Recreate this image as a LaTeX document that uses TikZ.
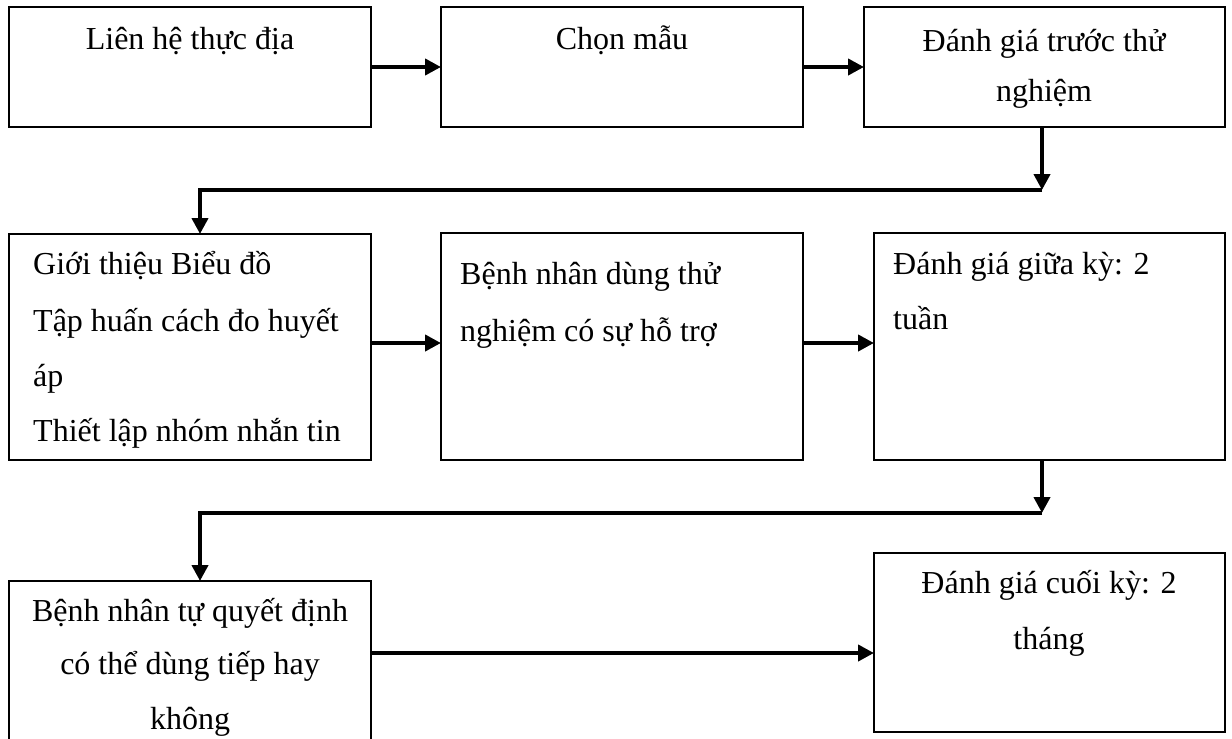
\documentclass[tikz,border=0pt]{standalone}
\usepackage{fontspec}
\setmainfont{Liberation Serif}
\usetikzlibrary{arrows.meta}
\begin{document}
\begin{tikzpicture}[x=1pt,y=-1pt,
  stepbox/.style={draw=black, line width=1.8pt, rectangle, inner sep=0pt, outer sep=0pt},
  txt/.style={inner sep=0pt, font=\fontsize{32}{38}\selectfont, text=black},
  flow/.style={line width=4pt, -{Triangle[length=16pt,width=16pt]}}]
\useasboundingbox (0,0) rectangle (1232,739);
\clip (0,0) rectangle (1232,739);
\fill[white] (0,0) rectangle (1232,739);

% boxes, row by row
\node[stepbox, minimum width=362pt, minimum height=120pt] (b1) at (190,67) {};
\node[stepbox, minimum width=362pt, minimum height=120pt] (b2) at (622,67) {};
\node[stepbox, minimum width=361pt, minimum height=120pt] (b3) at (1044.5,67) {};
\node[stepbox, minimum width=362pt, minimum height=226pt] (b4) at (190,347) {};
\node[stepbox, minimum width=362pt, minimum height=227pt] (b5) at (622,346.5) {};
\node[stepbox, minimum width=351pt, minimum height=227pt] (b6) at (1049.5,346.5) {};
\node[stepbox, minimum width=362pt, minimum height=219pt] (b7) at (190,690.5) {};
\node[stepbox, minimum width=351pt, minimum height=179pt] (b8) at (1049.5,642.5) {};

% texts
\node[txt, anchor=base] (t1) at (190,49) {Liên hệ thực địa};
\node[txt, anchor=base] (t2) at (622,49) {Chọn mẫu};
\node[txt, anchor=base] (t3a) at (1044,51) {Đánh giá trước thử};
\node[txt, anchor=base] (t3b) at (1044,101) {nghiệm};

\node[txt, anchor=base west] (t4a) at (33,274) {Giới thiệu Biểu đồ};
\node[txt, anchor=base west] (t4b) at (33,331) {Tập huấn cách đo huyết};
\node[txt, anchor=base west] (t4c) at (33,386) {áp};
\node[txt, anchor=base west] (t4d) at (33,441) {Thiết lập nhóm nhắn tin};

\node[txt, anchor=base west] (t5a) at (460,284) {Bệnh nhân dùng thử};
\node[txt, anchor=base west] (t5b) at (460,341) {nghiệm có sự hỗ trợ};

\node[txt, anchor=base west] (t6a) at (893,274) {Đánh giá giữa kỳ: 2};
\node[txt, anchor=base west] (t6b) at (893,329) {tuần};

\node[txt, anchor=base] (t7a) at (190,621) {Bệnh nhân tự quyết định};
\node[txt, anchor=base] (t7b) at (190,674) {có thể dùng tiếp hay};
\node[txt, anchor=base] (t7c) at (190,729) {không};

\node[txt, anchor=base] (t8a) at (1049,593) {Đánh giá cuối kỳ: 2};
\node[txt, anchor=base] (t8b) at (1049,649) {tháng};

% connector helper points
\coordinate (r2) at (0,343);
\coordinate (r3) at (0,653);
\coordinate (c1) at (1042,190);
\coordinate (k1) at (200,190);
\coordinate (c2) at (1042,513);
\coordinate (k2) at (200,513);

% connectors
\draw[flow] (b1.east) -- (b2.west);
\draw[flow] (b2.east) -- (b3.west);
\draw[flow] (b3.south -| c1) -- (c1);
\draw[flow] (c1) -- (k1) -- (k1 |- b4.north);
\draw[flow] (b4.east |- r2) -- (b5.west |- r2);
\draw[flow] (b5.east |- r2) -- (b6.west |- r2);
\draw[flow] (b6.south -| c2) -- (c2);
\draw[flow] (c2) -- (k2) -- (k2 |- b7.north);
\draw[flow] (b7.east |- r3) -- (b8.west |- r3);
\end{tikzpicture}
\end{document}
